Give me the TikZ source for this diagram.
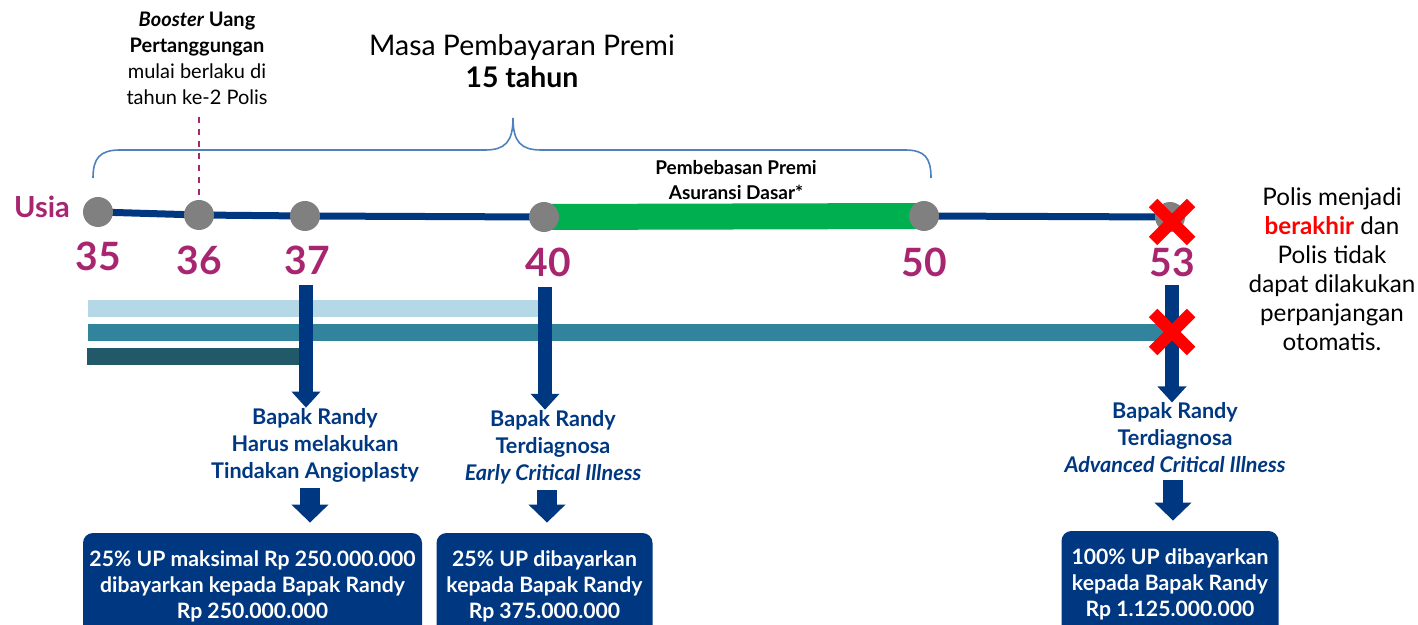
\documentclass[tikz,border=0pt]{standalone}
\usepackage{fontspec}
\setmainfont{Lato}
\usetikzlibrary{positioning,arrows.meta}

\definecolor{navy}{RGB}{0,55,129}
\definecolor{plum}{RGB}{168,38,112}
\definecolor{dotgrey}{RGB}{128,128,128}
\definecolor{braceblue}{RGB}{79,129,189}
\definecolor{waivergreen}{RGB}{0,176,80}
\definecolor{covlight}{RGB}{180,216,230}
\definecolor{covmid}{RGB}{49,132,155}
\definecolor{covdark}{RGB}{33,89,104}

\tikzset{
  dot/.style={circle, fill=dotgrey, minimum size=15pt, inner sep=0pt},
  age/.style={text=plum, inner sep=0pt, font=\bfseries\fontsize{19.5}{22}\selectfont},
  timeline/.style={draw=navy, line width=3.5pt},
  waiver/.style={draw=waivergreen, line width=13pt},
  brace/.style={draw=braceblue, line width=0.8pt},
  event/.style={text=navy, align=center, inner sep=0pt, font=\bfseries\fontsize{10.8}{13.5}\selectfont},
  payout/.style={fill=navy, text=white, rounded corners=5pt, align=center, minimum height=53pt,
    inner sep=0pt, font=\bfseries\fontsize{10.6}{13}\selectfont},
  bigarrow/.style={draw=navy, line width=7pt, -{Triangle[width=14pt, length=8pt]}},
  blockarrow/.style={draw=navy, line width=10pt, -{Triangle[width=18pt, length=9pt]}},
  cross/.style={draw=red, line width=6pt},
  note/.style={align=center, inner sep=0pt, font=\fontsize{12.1}{14.5}\selectfont}
}
\newcommand{\redcross}[1]{%
  \draw[cross] ([shift={(-19,-19)}]#1) -- ([shift={(19,19)}]#1);
  \draw[cross] ([shift={(-19,19)}]#1) -- ([shift={(19,-19)}]#1);}

\begin{document}
\begin{tikzpicture}[x=0.5pt, y=-0.5pt]
	\clip (0,0) rectangle (1418,625);

	% ages on the timeline
	\coordinate (p35) at (98,212);
	\coordinate (p36) at (199,215);
	\coordinate (p37) at (305,216);
	\coordinate (p40) at (544,217);
	\coordinate (p50) at (924,216);
	\coordinate (p53) at (1170,217);

	\draw[timeline] (p35) -- (p36) -- (p37) -- (p40) -- (p50) -- (p53);
	\draw[waiver] (p40) -- (p50);
	\foreach \a in {35,36,37,40,50,53}
		\node[dot] (a\a) at (p\a) {};

	\node[text=plum, inner sep=0pt, font=\bfseries\fontsize{14.5}{16}\selectfont] (usia) at (42,207) {Usia};
	\node[age] (n35) at (98,256) {35};
	\node[age] (n36) at (199,260) {36};
	\node[age] (n37) at (307,260) {37};
	\node[age] (n40) at (548,262) {40};
	\node[age] (n50) at (924,262) {50};
	\node[age] (n53) at (1172,262) {53};

	% texts above
	\node[align=center, inner sep=0pt, font=\fontsize{10}{13}\selectfont] (booster) at (197,58)
		{{\bfseries\itshape Booster} {\bfseries Uang}\\{\bfseries Pertanggungan}\\mulai berlaku di\\tahun ke-2 Polis};
	\draw[plum, dashed, line width=0.7pt] (booster.south -| a36) ++(0,12) -- (a36.north);

	\node[align=center, inner sep=0pt, font=\fontsize{14.2}{16}\selectfont] (masa) at (522,61)
		{Masa Pembayaran Premi\\{\bfseries 15 tahun}};
	\draw[brace] (93,178) .. controls (93,158) and (100,150) .. (120,150) -- (485,150)
		.. controls (505,150) and (513,142) .. (513,118)
		.. controls (513,142) and (521,150) .. (541,150) -- (905,150)
		.. controls (925,150) and (931,158) .. (931,178);

	\node[align=center, inner sep=0pt, font=\bfseries\fontsize{9.5}{12.5}\selectfont] (waive) at (736,180)
		{Pembebasan Premi\\Asuransi Dasar*};

	% coverage bars
	\fill[covlight] (88,300) rectangle (540,317);
	\fill[covmid] (88,324) rectangle (1165,341);
	\fill[covdark] (87,348) rectangle (300,365);

	% events
	\node[event] (ev37) at (315,445) {Bapak Randy\\Harus melakukan\\Tindakan Angioplasty};
	\node[event] (ev40) at (553,447) {Bapak Randy\\Terdiagnosa\\\itshape Early Critical Illness};
	\node[event] (ev53) at (1175,438) {Bapak Randy\\Terdiagnosa\\\itshape Advanced Critical Illness};

	\node[payout, minimum width=169.5pt] (pay37) at (252.5,586)
		{25\% UP maksimal Rp 250.000.000\\dibayarkan kepada Bapak Randy\\Rp 250.000.000};
	\node[payout, minimum width=108pt] (pay40) at (544.5,586)
		{25\% UP dibayarkan\\kepada Bapak Randy\\Rp 375.000.000};
	\node[payout, minimum width=108.5pt] (pay53) at (1170,584)
		{100\% UP dibayarkan\\kepada Bapak Randy\\Rp 1.125.000.000};

	\draw[bigarrow, shorten <=5pt] (n37.south -| 306,0) -- (ev37.north -| 306,0);
	\draw[bigarrow, shorten <=5pt] (n40.south -| 545,0) -- (ev40.north -| 545,0);
	\draw[bigarrow, shorten <=4pt] (n53.south -| 1172,0) -- (ev53.north -| 1172,0);

	\draw[blockarrow, shorten <=3pt, shorten >=5pt] (ev37.south -| 310,0) -- (pay37.north -| 310,0);
	\draw[blockarrow, shorten <=3pt, shorten >=5pt] (ev40.south -| 547,0) -- (pay40.north -| 547,0);
	\draw[blockarrow, shorten <=3pt, shorten >=5pt] (ev53.south -| 1173,0) -- (pay53.north -| 1173,0);

	% policy ends
	\coordinate (end53) at (1172,222);
	\coordinate (endcov) at (1172,332);
	\redcross{end53}
	\redcross{endcov}
	\node[note] (ends) at (1332,269)
		{Polis menjadi\\{\color{red}\bfseries berakhir} dan\\Polis tidak\\dapat dilakukan\\perpanjangan\\otomatis.};
\end{tikzpicture}
\end{document}
